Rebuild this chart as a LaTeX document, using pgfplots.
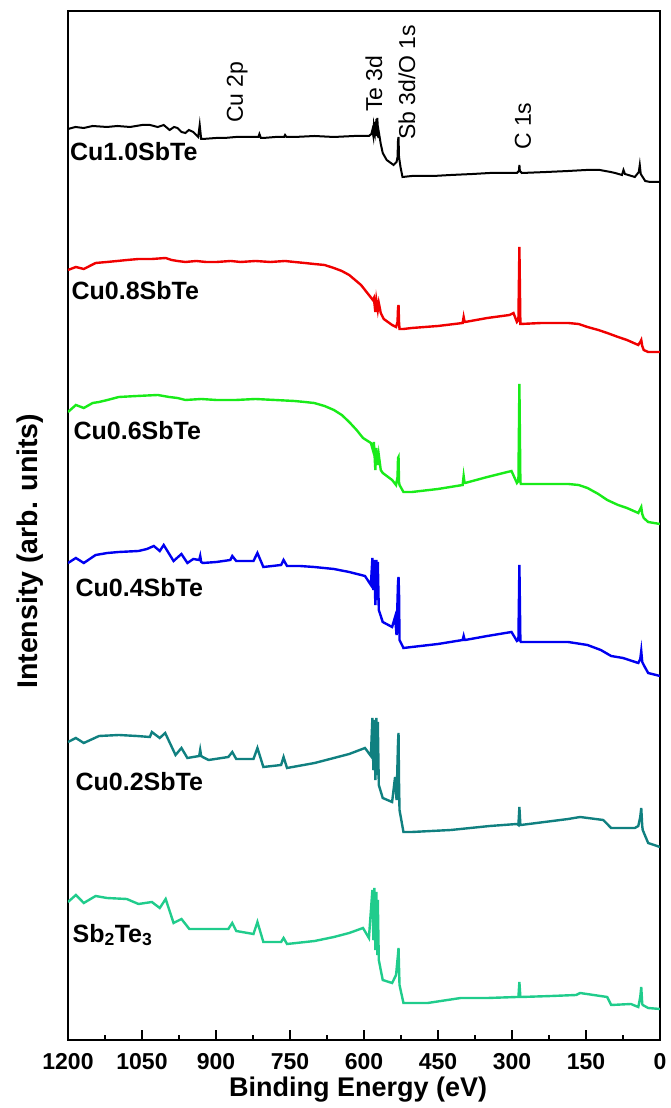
\documentclass[border=0pt]{standalone}
\usepackage{fontspec}
\setmainfont{Liberation Sans}
\usepackage{pgfplots}
\pgfplotsset{compat=1.18}

\definecolor{cred}{RGB}{240,0,0}
\definecolor{clime}{RGB}{25,235,25}
\definecolor{cblue}{RGB}{0,0,240}
\definecolor{cteal}{RGB}{16,128,128}
\definecolor{cmint}{RGB}{32,204,140}

\newcommand\tickfont{\fontsize{23}{24}\selectfont\bfseries}
\newcommand\samplefont{\fontsize{25}{26}\selectfont\bfseries}
\newcommand\peakfont{\fontsize{23}{24}\selectfont}

\begin{document}
\begin{tikzpicture}
\begin{axis}[
    at={(0,0)}, anchor=south west,
    width=592pt, height=1029pt, scale only axis,
    x dir=reverse,
    xmin=0, xmax=1200,
    ymin=-28, ymax=1001,
    xtick={0,150,...,1200},
    minor x tick num=1,
    ytick=\empty,
    xtick pos=left,
    tick align=inside,
    major tick length=10pt,
    minor tick length=5pt,
    every tick/.style={black, line width=2.4pt},
    axis line style={line width=2.6pt},
    /pgf/number format/1000 sep={},
    /pgf/number format/assume math mode=true,
    xticklabel style={font=\tickfont, inner sep=0pt, anchor=north, yshift=-13pt},
    xlabel={Binding Energy (eV)},
    xlabel style={font=\fontsize{27}{28}\selectfont\bfseries, at={(axis description cs:0.49,0)}, anchor=base, yshift=-56pt},
    ylabel={Intensity (arb. units)},
    ylabel style={font=\fontsize{28.5}{29}\selectfont\bfseries, at={(axis description cs:-0.0507,0.475)}, anchor=base},
]

% Cu1.0SbTe
\addplot[black, line width=2pt] coordinates {
(1200,883) (1185,885) (1168,884) (1150,886) (1121,885) (1100,886) (1074,885) (1050,887) (1034,887) (1018,885) (1006,887) (994,882) (985,885) (978,884) (970,880) (962,879) (955,882) (946,880) (936,875) (933,887) (930,873) (927,873) (900,874) (883,874) (860,875) (835,875) (814,875) (812,878) (809,874) (804,874) (780,875) (762,875) (760,877) (757,875) (741,875) (700,876) (661,875) (620,876) (590,876) (585,878) (583,882) (581,876) (580,886) (578,880) (577,890) (576,878) (575,893) (574,876) (573,894) (572,884) (571,874) (570,880) (566,868) (562,859) (554,852) (540,847) (534,850) (532,855) (531,872) (530,875) (529,855) (526,845) (522,835) (503,836) (460,836) (424,837) (380,838) (345,839) (290,839) (286,841) (285,847) (284,841) (280,839) (230,840) (186,841) (150,842) (122,842) (100,840) (91,839) (77,837) (74,842) (71,838) (51,835) (43,840) (41,847) (39,838) (30,831) (20,830) (0,830)
};

% Cu0.8SbTe
\addplot[cred, line width=2.4pt] coordinates {
(1200,742) (1184,745) (1168,743) (1144,749) (1121,750) (1100,751) (1080,752) (1057,753) (1030,753) (1002,754) (990,752) (978,751) (962,750) (940,751) (920,750) (899,750) (870,751) (850,750) (820,751) (790,750) (760,751) (741,750) (720,749) (701,748) (680,747) (661,744) (645,741) (630,737) (618,732) (606,727) (598,722) (590,717) (582,712) (580,714) (577,700) (575,712) (572,702) (570,709) (566,699) (560,693) (543,687) (535,685) (532,690) (531,704) (530,707) (529,690) (528,683) (520,683) (503,684) (450,686) (400,689) (398,695) (396,690) (395,690) (350,694) (305,697) (297,699) (290,690) (287,692) (285,765) (283,688) (240,689) (186,689) (165,688) (147,685) (125,682) (107,679) (85,675) (67,672) (44,667) (40,670) (38,672) (36,666) (33,662) (24,660) (0,660)
};

% Cu0.6SbTe
\addplot[clime, line width=2.4pt] coordinates {
(1200,600) (1184,607) (1168,604) (1150,609) (1137,610) (1120,612) (1097,615) (1060,616) (1018,617) (995,615) (978,614) (962,612) (930,613) (899,612) (860,612) (820,613) (780,612) (741,611) (720,610) (701,609) (680,606) (661,602) (645,597) (630,590) (615,582) (602,574) (586,569) (582,562) (580,570) (577,542) (575,564) (572,547) (570,557) (566,542) (562,539) (543,532) (535,527) (532,535) (531,554) (530,555) (529,530) (528,527) (520,520) (503,520) (450,523) (400,527) (398,536) (396,529) (395,529) (350,535) (301,541) (290,529) (287,531) (285,628) (283,530) (282,528) (240,528) (186,528) (165,527) (147,524) (125,518) (107,512) (85,507) (67,504) (44,499) (40,503) (38,505) (36,498) (33,494) (24,490) (0,488)
};

% Cu0.4SbTe
\addplot[cblue, line width=2.4pt] coordinates {
(1200,449) (1184,454) (1168,449) (1144,457) (1120,459) (1097,460) (1057,461) (1040,463) (1026,466) (1014,461) (1006,467) (986,451) (970,458) (958,449) (946,453) (934,452) (932,456) (930,450) (927,449) (899,450) (871,452) (867,456) (859,451) (824,451) (816,459) (804,445) (768,447) (763,452) (756,446) (730,446) (701,445) (661,443) (630,440) (598,436) (586,427) (583,454) (581,422) (579,452) (577,407) (575,452) (573,412) (572,450) (570,402) (562,390) (543,385) (537,395) (534,377) (531,430) (530,435) (529,420) (528,372) (520,364) (503,365) (450,368) (400,372) (398,376) (396,372) (395,372) (350,376) (301,380) (290,371) (287,372) (285,447) (283,371) (282,370) (240,370) (186,370) (147,367) (120,362) (99,356) (75,354) (44,349) (40,353) (38,361) (36,350) (33,347) (24,339) (0,336)
};

% Cu0.2SbTe
\addplot[cteal, line width=2.4pt] coordinates {
(1200,270) (1184,274) (1168,269) (1137,276) (1097,277) (1060,276) (1034,275) (1030,280) (1014,274) (1003,279) (982,257) (970,264) (958,254) (934,256) (932,262) (930,256) (927,255) (915,252) (875,255) (867,260) (859,253) (824,253) (816,264) (804,245) (768,247) (763,255) (756,244) (700,249) (661,254) (630,258) (598,264) (586,256) (583,294) (581,242) (579,292) (577,232) (575,294) (573,237) (572,290) (570,227) (562,214) (543,210) (537,235) (534,212) (531,270) (530,279) (529,230) (528,202) (520,180) (503,180) (424,182) (345,186) (290,188) (287,187) (285,205) (283,187) (282,187) (186,193) (162,195) (115,192) (99,184) (51,184) (44,186) (40,195) (38,204) (36,186) (35,182) (24,169) (0,165)
};

% Sb2Te3
\addplot[cmint, line width=2.4pt] coordinates {
(1200,110) (1184,117) (1168,109) (1144,116) (1121,114) (1081,113) (1057,108) (1030,110) (1014,104) (1002,113) (986,89) (970,93) (954,83) (900,83) (875,83) (867,89) (859,81) (824,78) (816,90) (804,70) (768,70) (763,74) (756,68) (700,71) (661,75) (630,79) (602,84) (590,74) (583,122) (581,72) (579,124) (577,62) (575,120) (573,57) (572,112) (570,52) (562,32) (543,29) (535,37) (531,58) (530,64) (529,45) (528,27) (520,9) (471,9) (404,14) (350,14) (290,15) (287,15) (285,30) (283,15) (282,15) (220,16) (170,17) (162,19) (107,15) (99,7) (59,8) (44,5) (40,15) (38,25) (36,8) (35,7) (24,4) (0,3)
};

% sample names
\node[anchor=west, inner sep=0pt, font=\samplefont] at (axis cs:1196,860) {Cu1.0SbTe};
\node[anchor=west, inner sep=0pt, font=\samplefont] at (axis cs:1193,721) {Cu0.8SbTe};
\node[anchor=west, inner sep=0pt, font=\samplefont] at (axis cs:1189,581) {Cu0.6SbTe};
\node[anchor=west, inner sep=0pt, font=\samplefont] at (axis cs:1185,424) {Cu0.4SbTe};
\node[anchor=west, inner sep=0pt, font=\samplefont] at (axis cs:1185,230) {Cu0.2SbTe};
\node[anchor=west, inner sep=0pt, font=\samplefont] at (axis cs:1191,77) {Sb\textsubscript{2}Te\textsubscript{3}};

% peak labels
\node[rotate=90, anchor=west, inner sep=0pt, font=\peakfont] at (axis cs:857,889) {Cu 2p};
\node[rotate=90, anchor=west, inner sep=0pt, font=\peakfont] at (axis cs:580,900) {Te 3d};
\node[rotate=90, anchor=west, inner sep=0pt, font=\peakfont] at (axis cs:513,872) {Sb 3d/O 1s};
\node[rotate=90, anchor=west, inner sep=0pt, font=\peakfont] at (axis cs:278,862) {C 1s};
\end{axis}
\pgfresetboundingbox
\useasboundingbox (-68pt,-68pt) rectangle (602pt,1040pt);
\end{tikzpicture}
\end{document}
